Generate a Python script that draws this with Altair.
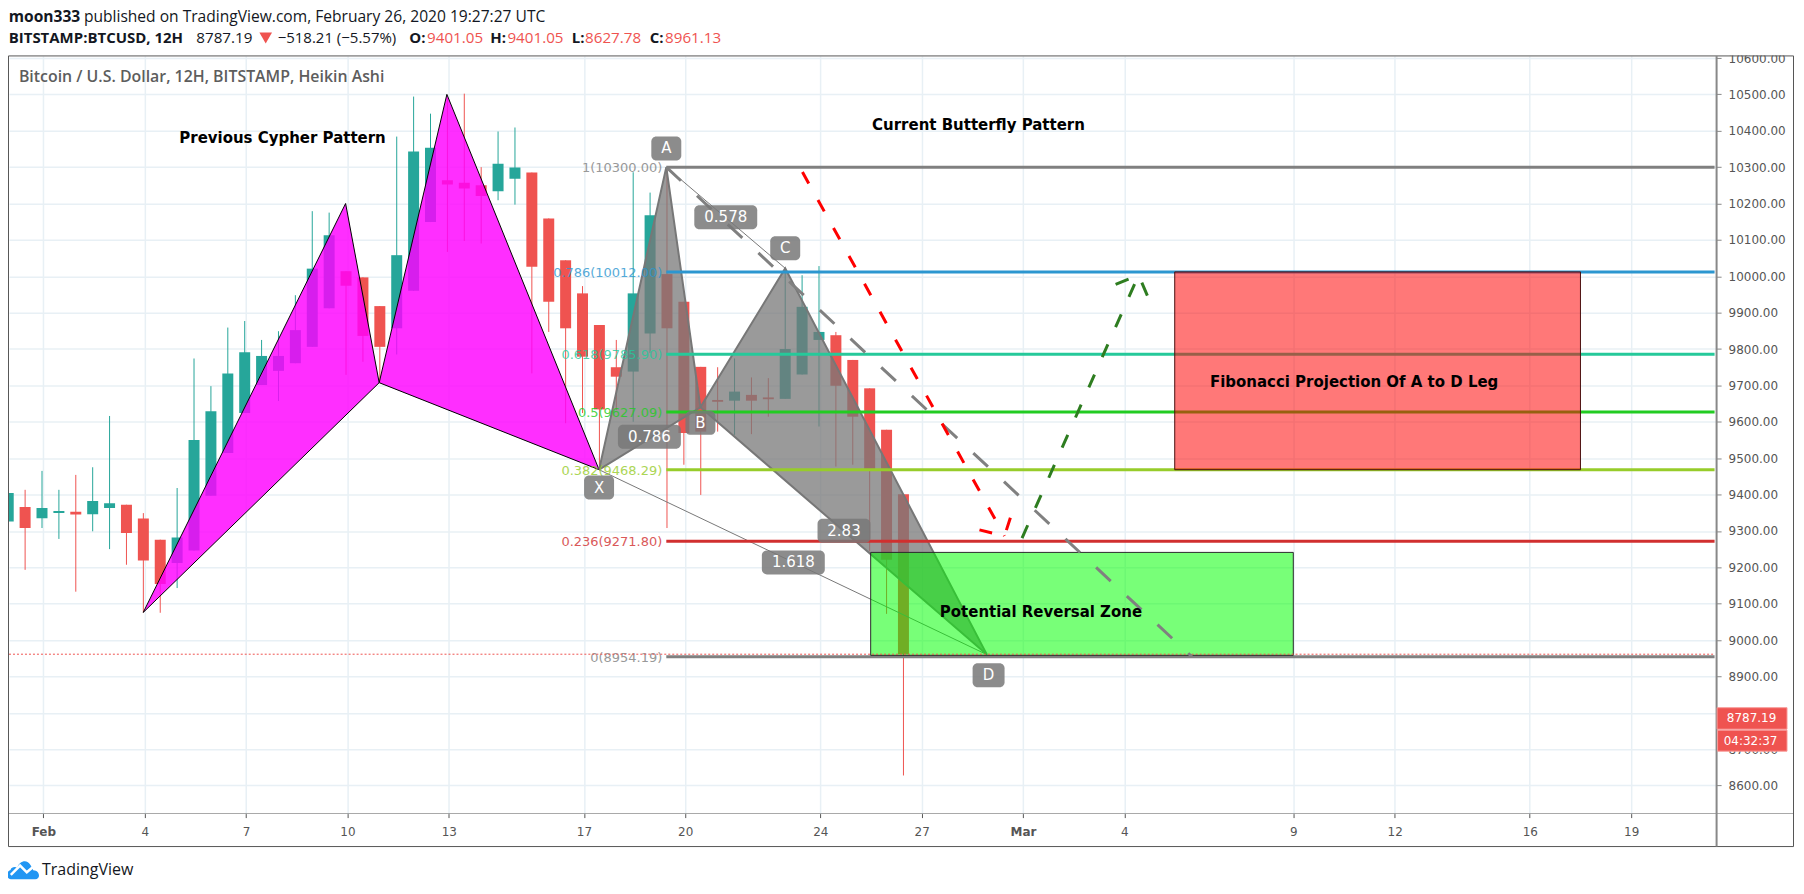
import altair as alt
import pandas as pd

# ---- candle data (12H Heikin Ashi) ----
opens = [9326, 9366, 9335, 9349, 9353, 9346, 9363, 9372, 9334, 9276, 9212, 9246, 9397, 9514, 9624, 9701, 9740, 9761,
         9806, 9912, 10014, 9997, 9918, 9857, 9960, 10149, 10264, 10257, 10250, 10234, 10268, 10285, 10159, 10044,
         9953, 9866, 9750, 9738, 9843, 10006, 9930, 9751, 9660, 9658, 9674, 9667, 9663, 9730, 9825, 9838, 9770, 9692,
         9578, 9401.05]
closes = [9404, 9308, 9363, 9355, 9345, 9382, 9376, 9294, 9219, 9154, 9282, 9550, 9629, 9733, 9791, 9781, 9781, 9852,
          10021, 10113, 9974, 9836, 9806, 10058, 10343, 10353, 10252, 10241, 10221, 10309, 10299, 10026, 9930, 9857,
          9779, 9634, 9724, 9953, 10168, 9857, 9569, 9573, 9655, 9683, 9658, 9662, 9800, 9916, 9847, 9699, 9614, 9468,
          9221, 8961.13]
highs = [9404, 9413, 9465, 9413, 9454, 9475, 9616, 9372, 9349, 9276, 9418, 9774, 9698, 9859, 9877, 9825, 9849, 9948,
         10179, 10175, 10014, 9997, 9918, 10384, 10494, 10447, 10490, 10502, 10300, 10398, 10409, 10285, 10159, 10044,
         9973, 9866, 9825, 10286, 10230, 10297, 9930, 9751, 9750, 9774, 9722, 9720, 10021, 10003, 10028, 9847, 9770,
         9692, 9578, 9401.05]
lows = [9326, 9193, 9308, 9278, 9133, 9299, 9250, 9207, 9076, 9075, 9143, 9246, 9397, 9514, 9624, 9701, 9657, 9761,
        9806, 9912, 9729, 9765, 9707, 9785, 9960, 10149, 10067, 10097, 10090, 10209, 10197, 9733, 9847, 9596,
        9624, 9468, 9632, 9600, 9789, 9308, 9482, 9399, 9573, 9564, 9566, 9614, 9663, 9730, 9587, 9477, 9482, 9244,
        9072, 8627.78]
first_day = -1.04  # days since 1 Feb of the first candle
days = [first_day + i * 0.5 for i in range(len(opens))]

# ---- axes ----
tick_days = [0, 3, 6, 9, 12, 16, 19, 23, 26, 29, 32, 37, 40, 44, 47]
tick_text = ["Feb", "4", "7", "10", "13", "17", "20", "24", "27", "Mar", "4", "9", "12", "16", "19"]
price_ticks = list(range(8600, 10601, 100))

# ---- Fibonacci levels ----
fib_text = ["1(10300.00)", "0.786(10012.00)", "0.618(9785.90)", "0.5(9627.09)", "0.382(9468.29)", "0.236(9271.80)", "0(8954.19)"]
fib_price = [10300, 10012, 9785.9, 9627.09, 9468.29, 9271.8, 8954.19]
fib_color = ["#808080", "#2b96d0", "#26c99a", "#22cc22", "#97cc2a", "#d12f2f", "#808080"]
fib_start, fib_end = 18.44, 49.47

# ---- harmonic patterns (day, price) ----
cypher_d = [2.957, 8.947, 9.941, 11.945, 16.45]
cypher_p = [9076, 10200, 9707.5, 10500, 9468.3]
butter_d = [16.45, 18.44, 19.45, 21.96, 27.93]
butter_p = [9468.3, 10300, 9640, 10022, 8960]

box_text = ["A", "C", "B", "D", "X", "0.578", "0.786", "2.83", "1.618"]
box_d = [18.44, 21.96, 19.45, 27.98, 16.45, 20.2, 17.94, 23.7, 22.2]
box_p = [10351.5, 10077, 9597, 8903.5, 9419.3, 10162, 9559, 9300.5, 9213.5]
box_w = [30, 30, 30, 32, 30, 63, 63, 53, 63]

note_text = ["Previous Cypher Pattern", "Current Butterfly Pattern", "Fibonacci Projection Of A to D Leg", "Potential Reversal Zone"]
note_d = [7.08, 27.68, 38.8, 29.53]
note_p = [10380, 10416.5, 9710, 9076]

# ---- arrows ----
grey_d, grey_p = [18.44, 34.0], [10300, 8954.19]
red_d, red_p = [22.47, 28.45], [10286.5, 9286]
redh_d, redh_p = [27.71, 28.45, 28.68], [9303, 9286, 9352]
grn_d, grn_p = [28.97, 32.42], [9280.5, 10003]
grnh_d, grnh_p = [31.74, 32.42, 32.74], [9977.5, 10003, 9934]

TEAL, RED = "#26a69a", "#ef5350"
AXC = "#555555"
FONT = "DejaVu Sans"
UI = "Open Sans"
OX, OY = 9.0, 55.5
W, H = 1709, 758.5

xs = alt.Scale(domain=[-1.017, 49.515], nice=False, zero=False, padding=0)
ys = alt.Scale(domain=[8523, 10605.7], nice=False, zero=False, padding=0)
X = lambda f="d": alt.X(f"{f}:Q", scale=xs, title=None)
Y = lambda f="p": alt.Y(f"{f}:Q", scale=ys, title=None)
one = pd.DataFrame({"a": [0]})


def px_text(s, x, y, color="#131722", size=15.6, weight="normal", font=UI, align="left"):
    return alt.Chart(pd.DataFrame({"t": [s]})).mark_text(
        font=font, fontSize=size, fontWeight=weight, color=color, align=align, baseline="middle"
    ).encode(text="t:N", x=alt.value(x - OX), y=alt.value(y - OY))


def px_rect(x0, y0, x1, y1, **kw):
    return alt.Chart(one).mark_rect(**kw).encode(
        x=alt.value(x0 - OX), x2=alt.value(x1 - OX), y=alt.value(y0 - OY), y2=alt.value(y1 - OY))


def poly(d, p, **kw):
    df = pd.DataFrame({"d": d, "p": p, "s": range(len(d))})
    return alt.Chart(df).mark_line(**kw).encode(x=X(), y=Y(), order="s:Q")


candles = pd.DataFrame({"d": days, "o": opens, "h": highs, "l": lows, "c": closes})
updown = alt.condition("datum.c >= datum.o", alt.value(TEAL), alt.value(RED))

label_map = ",".join(f"'{d}':'{t}'" for d, t in zip(tick_days, tick_text))
base = alt.Chart(candles).mark_rule(size=1, clip=True).encode(
    x=alt.X("d:Q", scale=xs, title=None, axis=alt.Axis(
        values=tick_days, tickCount=len(tick_days), title=None, labelExpr="{" + label_map + "}[datum.value]",
        labelFont=FONT, labelFontSize=12, labelColor=AXC, labelPadding=9, labelFlush=False, labelOverlap=False,
        labelFontWeight=alt.expr("datum.value == 0 || datum.value == 29 ? 'bold' : 'normal'"),
        tickColor=AXC, tickSize=4, domain=False,
        grid=True, gridColor="#e8f0f5", gridWidth=1.5)),
    y=alt.Y("l:Q", scale=ys, title=None, axis=alt.Axis(
        orient="right", values=price_ticks, tickCount=len(price_ticks), title=None, format=".2f",
        labelFont=FONT, labelFontSize=12, labelColor=AXC, labelPadding=7, labelFlush=False, labelOverlap=False,
        labelBound=False, tickColor="#888888", tickSize=5, domain=False,
        grid=True, gridColor="#e8f0f5", gridWidth=1.5)),
    y2="h:Q", color=updown)

bodies = alt.Chart(candles).mark_bar(size=11, clip=True).encode(
    x=X(), y=Y("o"), y2="c:Q", color=updown)

layers = [base, bodies]

# magenta cypher pattern
for a, b, c in [(0, 1, 2), (2, 3, 4)]:
    layers.append(poly([cypher_d[a], cypher_d[b], cypher_d[c], cypher_d[a]],
                       [cypher_p[a], cypher_p[b], cypher_p[c], cypher_p[a]],
                       fill="#ff00ff", fillOpacity=0.82, stroke="#000000", strokeWidth=1))
# grey butterfly pattern
for a, b, c in [(0, 1, 2), (2, 3, 4)]:
    layers.append(poly([butter_d[a], butter_d[b], butter_d[c], butter_d[a]],
                       [butter_p[a], butter_p[b], butter_p[c], butter_p[a]],
                       fill="#787878", fillOpacity=0.75, stroke="#777777", strokeWidth=2))
layers.append(poly([butter_d[0], butter_d[4]], [butter_p[0], butter_p[4]], stroke="#777777", strokeWidth=1))
layers.append(poly([butter_d[1], butter_d[3]], [butter_p[1], butter_p[3]], stroke="#777777", strokeWidth=1))

# Fibonacci levels
fib = pd.DataFrame({"p": fib_price, "t": fib_text, "col": fib_color, "d0": fib_start, "d1": fib_end})
layers.append(alt.Chart(fib).mark_rule(size=3).encode(
    x=X("d0"), x2="d1:Q", y=Y(), color=alt.Color("col:N", scale=None)))
layers.append(alt.Chart(fib).mark_text(font=FONT, fontSize=13, align="right", baseline="middle", opacity=0.8, dx=-4, dy=1).encode(
    x=X("d0"), y=Y(), text="t:N", color=alt.Color("col:N", scale=None)))

# zones
zones = pd.DataFrame({"d0": [24.49, 33.49], "d1": [37.0, 45.5], "p0": [8958, 9468.29], "p1": [9241, 10012],
                      "col": ["#00ff00", "#ff0000"], "edge": ["#2a2a2a", "#4a0f0f"]})
layers.append(alt.Chart(zones).mark_rect(fillOpacity=0.53, strokeWidth=1).encode(
    x=X("d0"), x2="d1:Q", y=Y("p0"), y2="p1:Q",
    fill=alt.Fill("col:N", scale=None), stroke=alt.Stroke("edge:N", scale=None)))

# last price dotted line
layers.append(alt.Chart(pd.DataFrame({"p": [closes[-1]], "d0": [-1.017], "d1": [fib_end]})).mark_rule(
    size=1, color=RED, strokeDash=[2, 2]).encode(x=X("d0"), x2="d1:Q", y=Y()))

# dashed projection lines
layers.append(poly(grey_d, grey_p, stroke="#808080", strokeWidth=3, strokeDash=[20, 22]))
layers.append(poly(red_d, red_p, stroke="#ff0000", strokeWidth=3, strokeDash=[13, 19]))
layers.append(poly(redh_d, redh_p, stroke="#ff0000", strokeWidth=3, strokeDash=[13, 19]))
layers.append(poly(grn_d, grn_p, stroke="#2e7d20", strokeWidth=3, strokeDash=[14, 19]))
layers.append(poly(grnh_d, grnh_p, stroke="#2e7d20", strokeWidth=3, strokeDash=[14, 19]))

# rounded labels
boxes = pd.DataFrame({"d": box_d, "p": box_p, "t": box_text, "w": box_w})
for w, part in boxes.groupby("w"):
    layers.append(alt.Chart(part).mark_rect(width=int(w), height=24, cornerRadius=5, color="#787878", opacity=0.85).encode(
        x=X(), y=Y()))
layers.append(alt.Chart(boxes).mark_text(font=FONT, fontSize=15, color="#ffffff", baseline="middle").encode(
    x=X(), y=Y(), text="t:N"))

# black notes
layers.append(alt.Chart(pd.DataFrame({"d": note_d, "p": note_p, "t": note_text})).mark_text(
    font=FONT, fontSize=15, fontWeight="bold", color="#000000", baseline="middle").encode(x=X(), y=Y(), text="t:N"))

# masks, frame, price axis line
layers += [
    px_rect(1719, 0, 1804, 55, fill="#ffffff"),
    px_rect(8.5, 55.5, 1795.5, 847, fill="transparent", stroke=AXC, strokeWidth=1),
    px_rect(8.5, 814, 1795.5, 814.5, fill=AXC),
    px_rect(1717.5, 55.5, 1719.5, 847, fill="#888888"),
    px_rect(1719, 708, 1789, 729.5, fill=RED, stroke="#f89a98", strokeWidth=1),
    px_rect(1719.5, 730.5, 1789, 751.5, fill=RED, stroke="#f89a98", strokeWidth=1),
    px_text("8787.19", 1753.5, 718.5, color="#ffffff", size=12, font=FONT, align="center"),
    px_text("04:32:37", 1752.5, 741, color="#ffffff", size=12, font=FONT, align="center"),
]

# header
layers += [
    px_text("moon333", 8.7, 16.5, weight="bold"),
    px_text("published on TradingView.com, February 26, 2020 19:27:27 UTC", 84, 16.5),
    px_text("BITSTAMP:BTCUSD, 12H", 8.7, 38, weight="bold", size=15),
    px_text("8787.19", 196.5, 38, size=15.2),
    alt.Chart(one).mark_point(shape="triangle-down", size=160, filled=True, color=RED, opacity=1).encode(
        x=alt.value(266 - OX), y=alt.value(37.5 - OY)),
    px_text("\u2212518.21 (\u22125.57%)", 278, 38, size=15),
    px_text("O:", 409.7, 38, weight="bold", size=15),
    px_text("9401.05", 427.5, 38, color=RED, size=15.2),
    px_text("H:", 490.8, 38, weight="bold", size=15),
    px_text("9401.05", 508, 38, color=RED, size=15.2),
    px_text("L:", 572.4, 38, weight="bold", size=15),
    px_text("8627.78", 585.7, 38, color=RED, size=15.2),
    px_text("C:", 650.5, 38, weight="bold", size=15),
    px_text("8961.13", 665.8, 38, color=RED, size=15.2),
    px_text("Bitcoin / U.S. Dollar, 12H, BITSTAMP, Heikin Ashi", 18.9, 76.7, color="#5d5d5d", size=15.9, weight=600),
]

# TradingView logo
cloud = ("M-0.78,0.57 C-1.08,0.57 -1.1,0.08 -0.8,0.0 C-0.75,-0.2 -0.5,-0.22 -0.38,-0.14 "
         "C-0.25,-0.55 0.22,-0.72 0.46,-0.3 C0.56,-0.15 0.6,-0.05 0.62,0.02 C1.08,0.05 1.08,0.57 0.75,0.57 Z")
zig = "M-0.78,0.3 L-0.2,-0.28 L0.22,0.14 L0.72,-0.28"
layers += [
    alt.Chart(one).mark_point(shape=cloud, size=1024, filled=True, color="#2196f3", opacity=1).encode(
        x=alt.value(23.3 - OX), y=alt.value(870.5 - OY)),
    alt.Chart(one).mark_point(shape=zig, size=1024, filled=False, color="#ffffff", strokeWidth=2.5, opacity=1).encode(
        x=alt.value(23.3 - OX), y=alt.value(870.5 - OY)),
    px_text("TradingView", 42, 870.7, size=16),
]

chart = alt.layer(*layers).properties(
    width=W, height=H,
    padding={"left": OX - 8, "top": OY - 8, "right": 80, "bottom": 68},
    autosize=alt.AutoSizeParams(type="none"),
    background="#ffffff",
).configure_view(strokeWidth=0)

chart.save("out.html", embed_options={"renderer": "svg", "actions": False})
